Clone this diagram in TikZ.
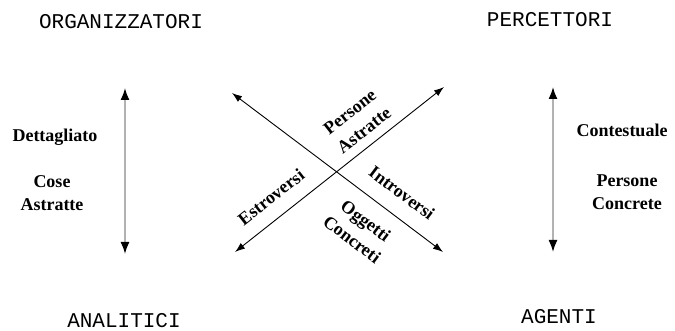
\documentclass[tikz,border=0pt]{standalone}
\usepackage{fontspec}
\setmainfont{Liberation Serif}
\newfontfamily\typefont{Liberation Mono}
\usetikzlibrary{positioning,arrows.meta}
\tikzset{
  vertarrow/.style={{Latex[length=12pt,width=9pt,color=black]}-{Latex[length=12pt,width=9pt,color=black]}, line width=1.6pt, draw=gray!60},
  diagarrow/.style={{Latex[length=10pt,width=7pt]}-{Latex[length=10pt,width=7pt]}, line width=0.9pt},
  typelabel/.style={font=\typefont\fontsize{21}{24}\selectfont, inner sep=0pt},
  stylelabel/.style={font=\bfseries\fontsize{18}{23}\selectfont, align=center, inner sep=0pt}
}
\begin{document}
\begin{tikzpicture}[x=1pt, y=-1pt]
  \useasboundingbox (0,0) rectangle (675,331);
  % four types
  \node[typelabel] (org) at (121,22) {ORGANIZZATORI};
  \node[typelabel] (perc) at (550,20) {PERCETTORI};
  \node[typelabel] (anal) at (124,321) {ANALITICI};
  \node[typelabel] (agen) at (559,317) {AGENTI};
  % vertical axes
  \coordinate (ltop) at (125,88);
  \coordinate (lbot) at (125,254);
  \coordinate (rtop) at (553,87);
  \coordinate (rbot) at (553,252);
  \draw[vertarrow] (ltop) -- (lbot);
  \draw[vertarrow] (rtop) -- (rbot);
  \node[stylelabel] (dett) at (55,137) {Dettagliato};
  \node[stylelabel] (cose) at (52,193) {Cose\\Astratte};
  \node[stylelabel] (cont) at (622,130) {Contestuale};
  \node[stylelabel] (pcon) at (627,192) {Persone\\Concrete};
  % diagonal axes
  \coordinate (dul) at (232,93);
  \coordinate (dlr) at (443,252);
  \coordinate (dll) at (235,252);
  \coordinate (dur) at (444,87);
  \draw[diagarrow] (dul) -- (dlr);
  \draw[diagarrow] (dll) -- (dur);
  \node[stylelabel, rotate=38] (pastr) at (357,121) {Persone\\Astratte};
  \node[stylelabel, rotate=38] (estr) at (271,197) {Estroversi};
  \node[stylelabel, rotate=-37] (intr) at (402,193) {Introversi};
  \node[stylelabel, rotate=-37] (ogg) at (359,230) {Oggetti\\Concreti};
\end{tikzpicture}
\end{document}
